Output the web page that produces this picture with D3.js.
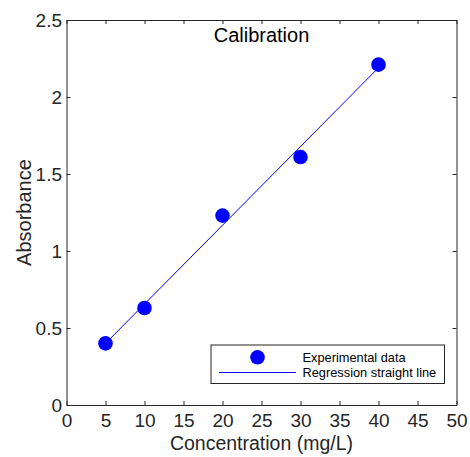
<!DOCTYPE html>
<html>
<head>
<meta charset="utf-8">
<script src="https://cdn.jsdelivr.net/npm/d3@7"></script>
<style>
  body { margin: 0; background: #fff; }
  text { font-family: "Liberation Sans", Arial, sans-serif; }
</style>
</head>
<body>
<div id="chart"></div>
<script>
// measured calibration points
const concentration = [5, 10, 20, 30, 40];
const absorbance = [0.40, 0.63, 1.23, 1.61, 2.21];
// regression line end points
const fitX = [5, 40];
const fitY = [0.40, 2.19];
const xTicks = [0, 5, 10, 15, 20, 25, 30, 35, 40, 45, 50];
const yTicks = [0, 0.5, 1, 1.5, 2, 2.5];

const svgWidth = 470, svgHeight = 457;
const margin = { top: 20, right: 13.5, bottom: 52, left: 66.5 };
const width = svgWidth - margin.left - margin.right;
const height = svgHeight - margin.top - margin.bottom;
const axisColor = "#262626";

const svg = d3.select("#chart").append("svg")
    .attr("width", svgWidth)
    .attr("height", svgHeight);

const g = svg.append("g")
    .attr("transform", `translate(${margin.left},${margin.top})`);

const x = d3.scaleLinear().domain([0, 50]).range([0, width]);
const y = d3.scaleLinear().domain([0, 2.5]).range([height, 0]);

function styleAxis(sel, showText) {
    sel.select(".domain").attr("stroke", axisColor).attr("stroke-width", 1);
    sel.selectAll(".tick line").attr("stroke", axisColor);
    sel.selectAll(".tick text")
        .attr("fill", axisColor)
        .style("font-size", "19px")
        .style("display", showText ? null : "none");
}

g.append("g")
    .attr("transform", `translate(0,${height})`)
    .call(d3.axisBottom(x).tickValues(xTicks).tickFormat(d3.format("d"))
        .tickSizeInner(-4).tickSizeOuter(0).tickPadding(9))
    .call(s => styleAxis(s, true));

g.append("g")
    .call(d3.axisTop(x).tickValues(xTicks).tickSizeInner(-4).tickSizeOuter(0))
    .call(s => styleAxis(s, false));

g.append("g")
    .call(d3.axisLeft(y).tickValues(yTicks).tickFormat(d => d)
        .tickSizeInner(-4).tickSizeOuter(0).tickPadding(4.5))
    .call(s => styleAxis(s, true));

g.append("g")
    .attr("transform", `translate(${width},0)`)
    .call(d3.axisRight(y).tickValues(yTicks).tickSizeInner(-4).tickSizeOuter(0))
    .call(s => styleAxis(s, false));

// regression line
const line = d3.line().x(d => x(d[0])).y(d => y(d[1]));
g.append("path")
    .datum(d3.zip(fitX, fitY))
    .attr("fill", "none")
    .attr("stroke", "#0000ff")
    .attr("stroke-width", 1)
    .attr("d", line);

// data points
g.selectAll("circle.pt")
    .data(d3.zip(concentration, absorbance))
    .enter().append("circle")
    .attr("class", "pt")
    .attr("cx", d => x(d[0]))
    .attr("cy", d => y(d[1]))
    .attr("r", 7.3)
    .attr("fill", "#0000ff");

// title and axis labels
g.append("text")
    .attr("x", width / 2)
    .attr("y", 22)
    .attr("text-anchor", "middle")
    .style("font-size", "20px")
    .attr("fill", "#000")
    .text("Calibration");

svg.append("text")
    .attr("x", margin.left + width / 2)
    .attr("y", 450)
    .attr("text-anchor", "middle")
    .style("font-size", "19.5px")
    .attr("fill", axisColor)
    .text("Concentration (mg/L)");

svg.append("text")
    .attr("transform", `translate(31,${margin.top + height / 2}) rotate(-90)`)
    .attr("text-anchor", "middle")
    .style("font-size", "20px")
    .attr("fill", axisColor)
    .text("Absorbance");

// legend
const legend = svg.append("g").attr("transform", "translate(211,345)");
legend.append("rect")
    .attr("width", 233.5)
    .attr("height", 38.5)
    .attr("fill", "#fff")
    .attr("stroke", axisColor)
    .attr("stroke-width", 1);
legend.append("circle")
    .attr("cx", 46.5).attr("cy", 12.3).attr("r", 7.3)
    .attr("fill", "#0000ff");
legend.append("line")
    .attr("x1", 8).attr("x2", 85)
    .attr("y1", 27.5).attr("y2", 27.5)
    .attr("stroke", "#0000ff");
legend.append("text")
    .attr("x", 91.5).attr("y", 12.3).attr("dy", "0.35em")
    .style("font-size", "12.8px")
    .attr("fill", "#000")
    .text("Experimental data");
legend.append("text")
    .attr("x", 91.5).attr("y", 27.5).attr("dy", "0.35em")
    .style("font-size", "12.8px")
    .attr("fill", "#000")
    .text("Regression straight line");
</script>
</body>
</html>
